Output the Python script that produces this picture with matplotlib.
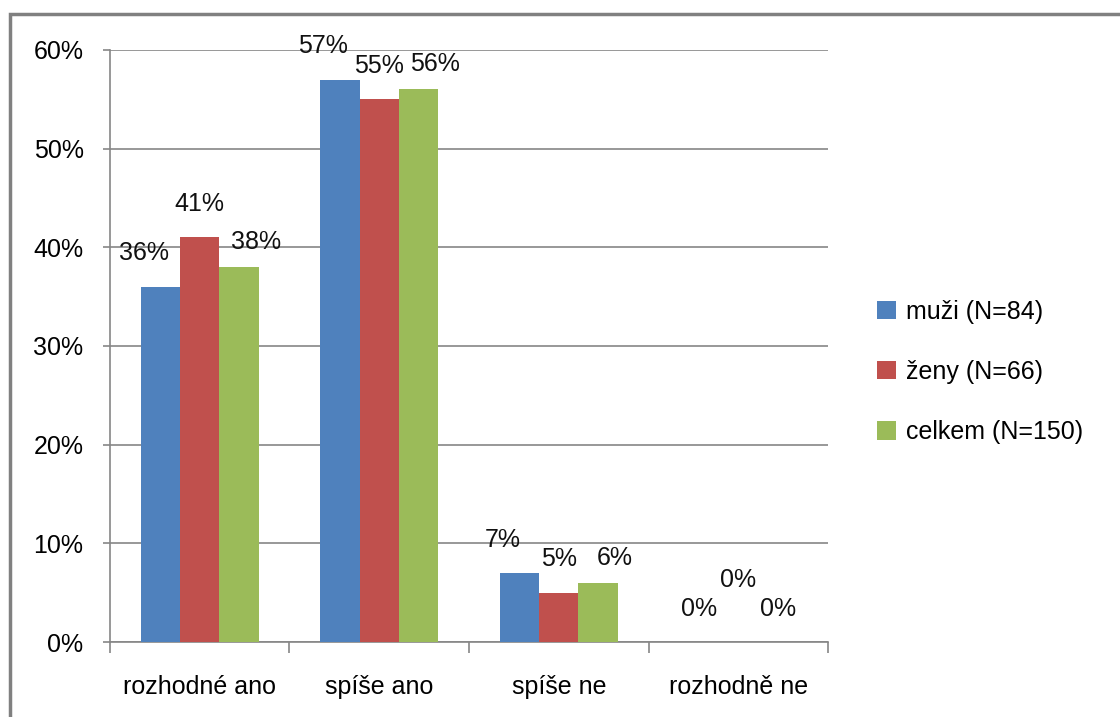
import matplotlib.pyplot as plt
import numpy as np
from matplotlib.patches import Rectangle

kategorie = ['rozhodné ano', 'spíše ano', 'spíše ne', 'rozhodně ne']
muzi = [36, 57, 7, 0]
zeny = [41, 55, 5, 0]
celkem = [38, 56, 6, 0]
serie = ['muži (N=84)', 'ženy (N=66)', 'celkem (N=150)']
barvy = ['#4F81BD', '#C0504D', '#9BBB59']

plt.rcParams['font.family'] = ['Liberation Sans', 'DejaVu Sans']
FS = 18

fig = plt.figure(figsize=(11.2, 7.17), dpi=100)
ax = fig.add_axes([0.0982, 0.1046, 0.6411, 0.8257])

# ramecek kolem celeho grafu
fig.patches.append(Rectangle((10 / 1120, -0.1), 1.2, 1 - 14 / 717 + 0.1,
                             transform=fig.transFigure, fill=False,
                             edgecolor='#808080', linewidth=2.5))

x = np.arange(len(kategorie))
w = 0.22
# posun popisku (body) pro kazdou serii
posun = [(-12, 24), (0, 24), (12, 18)]
for i, (vals, barva, nazev) in enumerate(zip([muzi, zeny, celkem], barvy, serie)):
    pos = x + (i - 1) * w
    ax.bar(pos, vals, width=w, color=barva, label=nazev, zorder=3)
    for px, v in zip(pos, vals):
        dx, dy = posun[i]
        if v == 0:
            dx, dy = 0, (45 if i == 1 else 24)
        ax.annotate(f'{v}%', (px, v), xytext=(dx, dy), textcoords='offset points',
                    ha='center', va='center', fontsize=FS, color='#111111')

ax.set_ylim(0, 60)
ax.set_xlim(-0.5, 3.5)
ax.set_yticks(range(0, 61, 10))
ax.set_yticklabels([f'{v}%' for v in range(0, 61, 10)], fontsize=FS)
ax.yaxis.grid(True, color='#868686', linewidth=1.2, zorder=0)
ax.tick_params(axis='y', length=5, width=1.2, color='#868686', pad=14)

ax.set_xticks(x)
ax.set_xticklabels(kategorie, fontsize=FS)
ax.set_xticks(np.arange(-0.5, 4, 1), minor=True)
ax.tick_params(axis='x', which='major', length=0, pad=24)
ax.tick_params(axis='x', which='minor', length=8, width=1.2, color='#868686')

for s in ['top', 'right']:
    ax.spines[s].set_visible(False)
for s in ['left', 'bottom']:
    ax.spines[s].set_color('#868686')
    ax.spines[s].set_linewidth(1.2)

ax.legend(loc='center left', bbox_to_anchor=(1.037, 0.456), frameon=False,
          fontsize=FS, handlelength=0.75, handleheight=0.75, handletextpad=0.4,
          labelspacing=1.45)

fig.savefig('out.png', dpi=100)
